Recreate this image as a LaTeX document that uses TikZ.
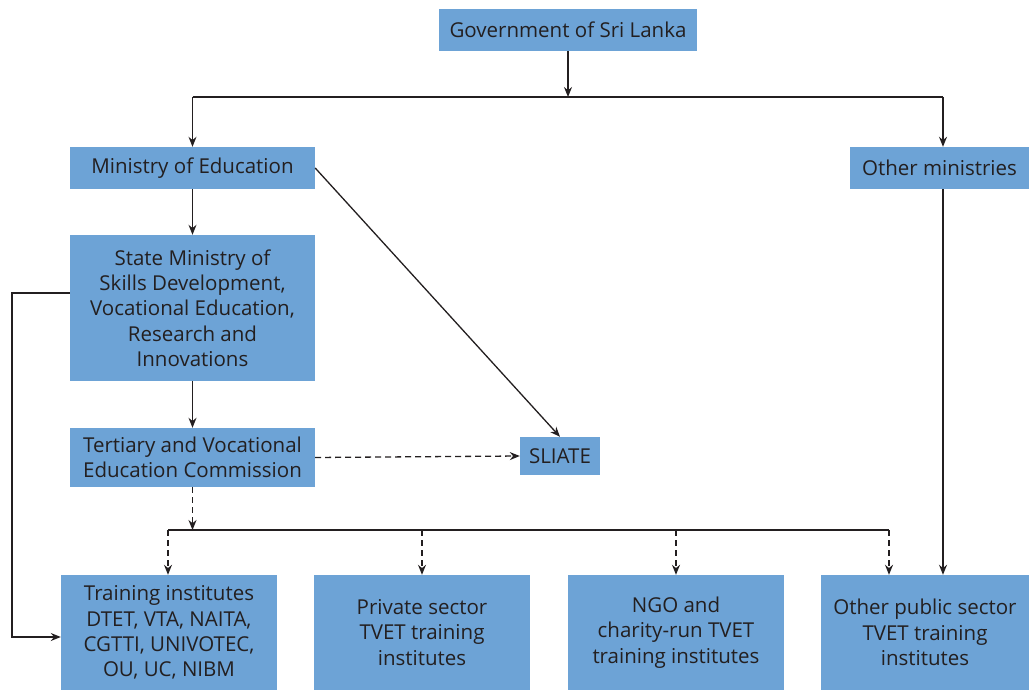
\documentclass[tikz,border=0pt]{standalone}
\usepackage{fontspec}
\setmainfont{Open Sans}
\usetikzlibrary{arrows.meta}
\definecolor{boxblue}{HTML}{6DA3D6}
\definecolor{ink}{HTML}{231F20}
\begin{document}
\begin{tikzpicture}[x=1pt,y=-1pt,
  box/.style={fill=boxblue, text=ink, align=center, inner sep=0pt,
    font=\fontsize{20.5}{25.3}\selectfont},
  conn/.style={draw=ink, line width=1.3pt, -{Stealth[length=10pt,width=8pt]}},
  dconn/.style={conn, dash pattern=on 6pt off 4pt},
  plain/.style={draw=ink, line width=1.3pt}]
\useasboundingbox (0,0) rectangle (1029,690);

% boxes
\node[box, minimum width=258pt, minimum height=42pt] (gov) at (568,30) {Government of Sri Lanka};
\node[box, minimum width=245pt, minimum height=42pt] (moe) at (192.5,168) {Ministry of Education};
\node[box, minimum width=179pt, minimum height=42pt] (oth) at (939.5,168) {Other ministries};
\node[box, minimum width=245pt, minimum height=146pt] (sm) at (192.5,308)
  {State Ministry of\\Skills Development,\\Vocational Education,\\Research and\\Innovations};
\node[box, minimum width=245pt, minimum height=59pt] (tvec) at (192.5,457.5)
  {Tertiary and Vocational\\Education Commission};
\node[box, minimum width=80pt, minimum height=38pt] (sli) at (560,456) {SLIATE};
\node[box, minimum width=216pt, minimum height=115pt] (b1) at (169,632.5)
  {Training institutes\\DTET, VTA, NAITA,\\CGTTI, UNIVOTEC,\\OU, UC, NIBM};
\node[box, minimum width=216pt, minimum height=115pt] (b2) at (422,632.5)
  {Private sector\\TVET training\\institutes};
\node[box, minimum width=216pt, minimum height=115pt] (b3) at (676,632.5)
  {NGO and\\charity-run TVET\\training institutes};
\node[box, minimum width=208pt, minimum height=115pt] (b4) at (925,632.5)
  {Other public sector\\TVET training\\institutes};

% junction points
\coordinate (busL) at (192.5,97);
\coordinate (busM) at (568,97);
\coordinate (busR) at (943,97);
\coordinate (lowL) at (168,530);
\coordinate (lowM) at (192.5,530);
\coordinate (lowR) at (889,530);
\coordinate (fbA) at (12,293);
\coordinate (fbB) at (12,637);

% top level
\draw[conn] (gov.south) -- (busM);
\draw[plain] (busL) -- (busR);
\draw[conn] (busL) -- (moe.north);
\draw[conn] (busR) -- (busR |- oth.north);

% education branch
\draw[conn] (moe.south) -- (sm.north);
\draw[conn] (moe.east) -- (sli.north);
\draw[conn] (sm.south) -- (tvec.north);
\draw[dconn] (tvec.east) -- (sli.west);
\draw[conn] (sm.west |- fbA) -- (fbA) -- (fbB) -- (b1.west |- fbB);

% training providers
\draw[dconn] (tvec.south) -- (lowM);
\draw[plain] (lowL) -- (lowR);
\draw[dconn] (lowL) -- (lowL |- b1.north);
\draw[dconn] (b2.north |- lowL) -- (b2.north);
\draw[dconn] (b3.north |- lowL) -- (b3.north);
\draw[dconn] (lowR) -- (lowR |- b4.north);
\draw[conn] (busR |- oth.south) -- (busR |- b4.north);
\end{tikzpicture}
\end{document}
